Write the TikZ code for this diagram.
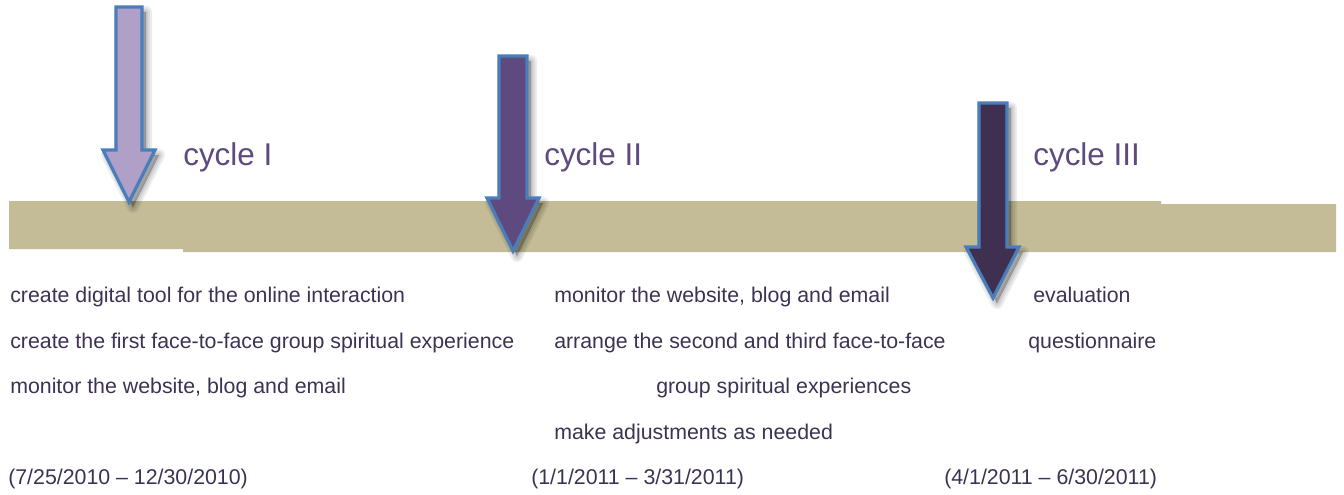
\documentclass[tikz,border=0pt]{standalone}
\usepackage{fontspec}
\setmainfont{Liberation Sans}
\definecolor{bandcol}{RGB}{195,188,150}
\definecolor{arrowA}{RGB}{176,160,200}
\definecolor{arrowB}{RGB}{94,74,126}
\definecolor{arrowC}{RGB}{63,48,82}
\definecolor{edgeblue}{RGB}{74,126,187}
\definecolor{cyclecol}{RGB}{94,74,126}
\definecolor{textcol}{RGB}{62,50,82}
\begin{document}
\begin{tikzpicture}[x=0.75pt,y=-0.75pt,
  arrowshape/.style n args={8}{insert path={(#1,#3) -- (#2,#3) -- (#2,#4) -- (#6,#4) -- (#7,#8) -- (#5,#4) -- (#1,#4) -- cycle}},
  arrowedge/.style={draw=edgeblue, line width=2.4pt, line join=miter, miter limit=4},
  shadowlayer/.style={draw=black, fill=black, draw opacity=0.07, fill opacity=0.07, line join=round, line width=#1},
  cyclelabel/.style={anchor=base west, inner sep=0, text=cyclecol, font=\fontsize{23.6}{27}\selectfont},
  bodytext/.style={anchor=base west, inner sep=0, text=textcol, font=\fontsize{16}{18}\selectfont}]
\useasboundingbox (0,0) rectangle (1344,494);
% band
\fill[bandcol] (9,201) -- (1161,201) -- (1161,204) -- (1336,204) -- (1336,252) -- (183,252) -- (183,249) -- (9,249) -- cycle;
% arrows with soft shadow
\foreach \w in {9,6,3,0.5}{
  \path[shadowlayer=\w pt, shift={(4,5)}, arrowshape={116}{142}{7}{150}{103}{155}{129}{202}];
  \path[shadowlayer=\w pt, shift={(4,5)}, arrowshape={499}{527}{56}{198}{487}{539}{513}{251}];
  \path[shadowlayer=\w pt, shift={(4,5)}, arrowshape={979}{1007}{103}{247}{966}{1019}{993}{298}];
}
\path[fill=arrowA, arrowedge, arrowshape={116}{142}{7}{150}{103}{155}{129}{202}];
\path[fill=arrowB, arrowedge, arrowshape={499}{527}{56}{198}{487}{539}{513}{251}];
\path[fill=arrowC, arrowedge, arrowshape={979}{1007}{103}{247}{966}{1019}{993}{298}];
% cycle labels
\node[cyclelabel] (c1) at (183,165) {cycle I};
\node[cyclelabel] (c2) at (544,165) {cycle II};
\node[cyclelabel] (c3) at (1033,165) {cycle III};
% column 1
\node[bodytext] (a1) at (10,302) {create digital tool for the online interaction};
\node[bodytext] (a2) at (10,348) {create the first face-to-face group spiritual experience};
\node[bodytext] (a3) at (10,393) {monitor the website, blog and email};
% column 2
\node[bodytext] (b1) at (554,302) {monitor the website, blog and email};
\node[bodytext] (b2) at (554,348) {arrange the second and third face-to-face};
\node[bodytext] (b3) at (656,393) {group spiritual experiences};
\node[bodytext] (b4) at (554,439) {make adjustments as needed};
% column 3
\node[bodytext] (e1) at (1033,302) {evaluation};
\node[bodytext] (e2) at (1028,348) {questionnaire};
% dates
\node[bodytext] (d1) at (8,484) {(7/25/2010 – 12/30/2010)};
\node[bodytext] (d2) at (531,484) {(1/1/2011 – 3/31/2011)};
\node[bodytext] (d3) at (944,484) {(4/1/2011 – 6/30/2011)};
\end{tikzpicture}
\end{document}
